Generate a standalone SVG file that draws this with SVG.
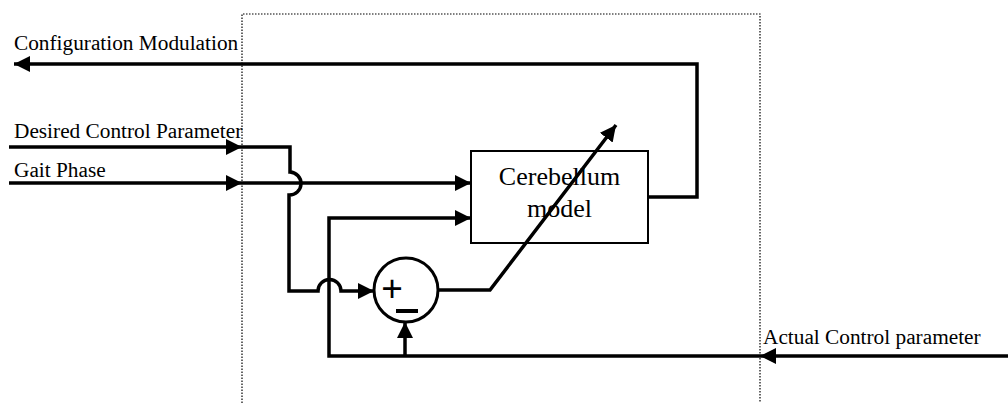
<svg xmlns="http://www.w3.org/2000/svg" width="1008" height="403" viewBox="0 0 1008 403">
<style>
.lbl{font-family:"Liberation Serif","Times New Roman",serif;font-size:21.3px;fill:#000}
.box{font-family:"Liberation Serif","Times New Roman",serif;font-size:26px;fill:#000}
.sym{font-family:"Liberation Sans",Arial,sans-serif;fill:#000}
.wire{fill:none;stroke:#000;stroke-width:3.5}
.dot{fill:none;stroke:#000;stroke-width:1.2;stroke-dasharray:1.5 1.5}
</style>
<defs>
<marker id="ah" viewBox="0 0 16 16" refX="16" refY="8" markerWidth="16" markerHeight="16" markerUnits="userSpaceOnUse" orient="auto">
<path d="M0,0 L16,8 L0,16 z" fill="#000"/>
</marker>
</defs>
<rect width="1008" height="403" fill="#fff"/>
<g id="boundary">
<path class="dot" d="M242,403 V14 H760 V403"/>
</g>
<g id="cerebellum">
<rect x="471" y="151" width="177" height="92" fill="#fff" stroke="#000" stroke-width="2"/>
<text class="box" x="559.5" y="185" text-anchor="middle">Cerebellum</text>
<text class="box" x="559.5" y="217" text-anchor="middle">model</text>
</g>
<g id="summing">
<circle cx="406" cy="290" r="32" fill="#fff" stroke="#000" stroke-width="3"/>
<text class="sym" x="392" y="301" font-size="37" text-anchor="middle">+</text>
<rect x="396" y="309" width="22" height="4" fill="#000"/>
</g>
<g id="labels">
<text class="lbl" x="14" y="50">Configuration Modulation</text>
<text class="lbl" x="14" y="138">Desired Control Parameter</text>
<text class="lbl" x="14" y="177">Gait Phase</text>
<text class="lbl" x="763" y="344">Actual Control parameter</text>
</g>
<g id="connectors">
<path class="wire" d="M648,197 H697 V64 H14" marker-end="url(#ah)"/>
<path class="wire" d="M9,147 H242" marker-end="url(#ah)"/>
<path class="wire" d="M9,183 H242" marker-end="url(#ah)"/>
<path class="wire" d="M242,183 H471" marker-end="url(#ah)"/>
<path class="wire" d="M242,147 H290 V172 A11.5,11.5 0 0 1 289,195 V291 H318 A11.5,11.5 0 0 1 341,291 H374" marker-end="url(#ah)"/>
<path class="wire" d="M1008,356 H760" marker-end="url(#ah)"/>
<path class="wire" d="M760,356 H329 V218 H471" marker-end="url(#ah)"/>
<path class="wire" d="M405,356 V322" marker-end="url(#ah)"/>
<path class="wire" d="M438,290 H490 L616,125" marker-end="url(#ah)"/>
</g>
</svg>
